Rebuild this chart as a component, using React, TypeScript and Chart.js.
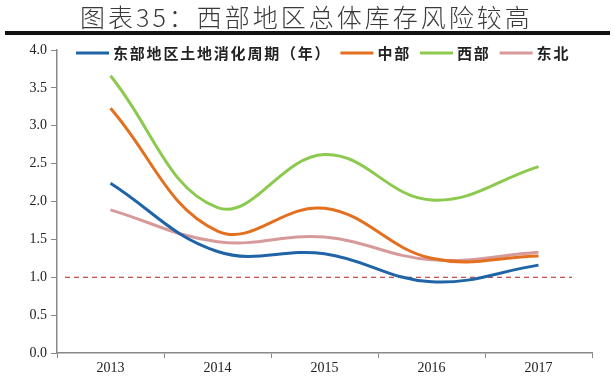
import React, { useEffect, useRef } from "react";
import { Chart, registerables } from "chart.js";

Chart.register(...registerables);

const titleText = "图表35：西部地区总体库存风险较高";
const categories = ["2013", "2014", "2015", "2016", "2017"];
const seriesLabels = ["东部地区土地消化周期（年）", "中部", "西部", "东北"];
const eastValues = [2.24, 1.34, 1.31, 0.94, 1.16];
const centralValues = [3.23, 1.61, 1.91, 1.25, 1.28];
const westValues = [3.66, 1.92, 2.62, 2.02, 2.46];
const northeastValues = [1.89, 1.47, 1.53, 1.23, 1.33];
const seriesColors = ["#1f64a6", "#e2701f", "#8cc94f", "#d79a9b"];
const referenceValue = 1.0;
const yMin = 0;
const yMax = 4;
const yStep = 0.5;

const refLinePlugin = {
  id: "refLine",
  beforeDatasetsDraw(chart: any) {
    const { ctx, chartArea, scales } = chart;
    const y = scales.y.getPixelForValue(referenceValue);
    ctx.save();
    ctx.strokeStyle = "#b02020";
    ctx.lineWidth = 1;
    ctx.setLineDash([5, 4]);
    ctx.beginPath();
    ctx.moveTo(chartArea.left + 8, y);
    ctx.lineTo(chartArea.right - 20, y);
    ctx.stroke();
    ctx.restore();
  },
};

const legendPlugin = {
  id: "customLegend",
  afterDraw(chart: any) {
    const { ctx } = chart;
    ctx.save();
    ctx.font = "bold 15px 'Noto Sans CJK SC'";
    (ctx as any).letterSpacing = "1.8px";
    ctx.textBaseline = "middle";
    ctx.fillStyle = "#222";
    let x = 76;
    const y = 53;
    chart.data.datasets.forEach((ds: any) => {
      ctx.strokeStyle = ds.borderColor;
      ctx.lineWidth = 3;
      ctx.setLineDash([]);
      ctx.beginPath();
      ctx.moveTo(x, y);
      ctx.lineTo(x + 33, y);
      ctx.stroke();
      x += 37;
      ctx.fillText(ds.label, x, y);
      x += ctx.measureText(ds.label).width + 9;
    });
    ctx.restore();
  },
};

export default function App() {
  const canvasRef = useRef<HTMLCanvasElement | null>(null);

  useEffect(() => {
    document.body.style.margin = "0";
    const canvas = canvasRef.current;
    if (!canvas) return;
    const valuesList = [eastValues, centralValues, westValues, northeastValues];
    const chart = new Chart(canvas, {
      type: "line",
      data: {
        labels: categories,
        datasets: valuesList.map((vals, i) => ({
          label: seriesLabels[i],
          data: vals,
          borderColor: seriesColors[i],
          backgroundColor: seriesColors[i],
          borderWidth: 3,
          pointRadius: 0,
          tension: 0.4,
          fill: false,
        })),
      },
      options: {
        animation: false,
        responsive: false,
        maintainAspectRatio: false,
        layout: { padding: { left: 8, right: 21, top: 50, bottom: 0 } },
        plugins: {
          legend: { display: false },
          tooltip: { enabled: false },
          title: { display: false },
        },
        scales: {
          x: {
            offset: true,
            grid: {
              display: true,
              drawOnChartArea: false,
              drawTicks: true,
              tickLength: 5,
              color: "#888",
              offset: true,
            },
            border: { color: "#888", width: 1.5 },
            ticks: {
              color: "#222",
              font: { family: "'Liberation Serif', serif", size: 14 },
              padding: 2,
              maxRotation: 0,
            },
            afterFit(scale: any) {
              scale.height = 27;
            },
          },
          y: {
            min: yMin,
            max: yMax,
            grid: {
              display: true,
              drawOnChartArea: false,
              drawTicks: true,
              tickLength: 6,
              color: "#888",
            },
            border: { color: "#888", width: 1.5 },
            ticks: {
              stepSize: yStep,
              color: "#222",
              font: { family: "'Liberation Serif', serif", size: 14 },
              padding: 4,
              callback: (v: any) => Number(v).toFixed(1),
            },
            afterFit(scale: any) {
              scale.width = 49;
            },
          },
        },
      },
      plugins: [refLinePlugin, legendPlugin],
    });
    return () => chart.destroy();
  }, []);

  return (
    <div style={{ position: "relative", width: 613, height: 380, background: "#fff", overflow: "hidden" }}>
      <canvas ref={canvasRef} width={613} height={380} style={{ position: "absolute", left: 0, top: 0 }} />
      <div
        style={{
          position: "absolute",
          left: 0,
          top: 0,
          width: 613,
          textAlign: "center",
          fontFamily: "'Noto Sans CJK SC', sans-serif",
          fontSize: 25,
          fontWeight: 300,
          letterSpacing: "3px",
          color: "#3a3a3a",
          lineHeight: "32px",
        }}
      >
        {titleText}
      </div>
      <div style={{ position: "absolute", left: 5, top: 31, width: 605, height: 4, background: "#111" }} />
    </div>
  );
}
